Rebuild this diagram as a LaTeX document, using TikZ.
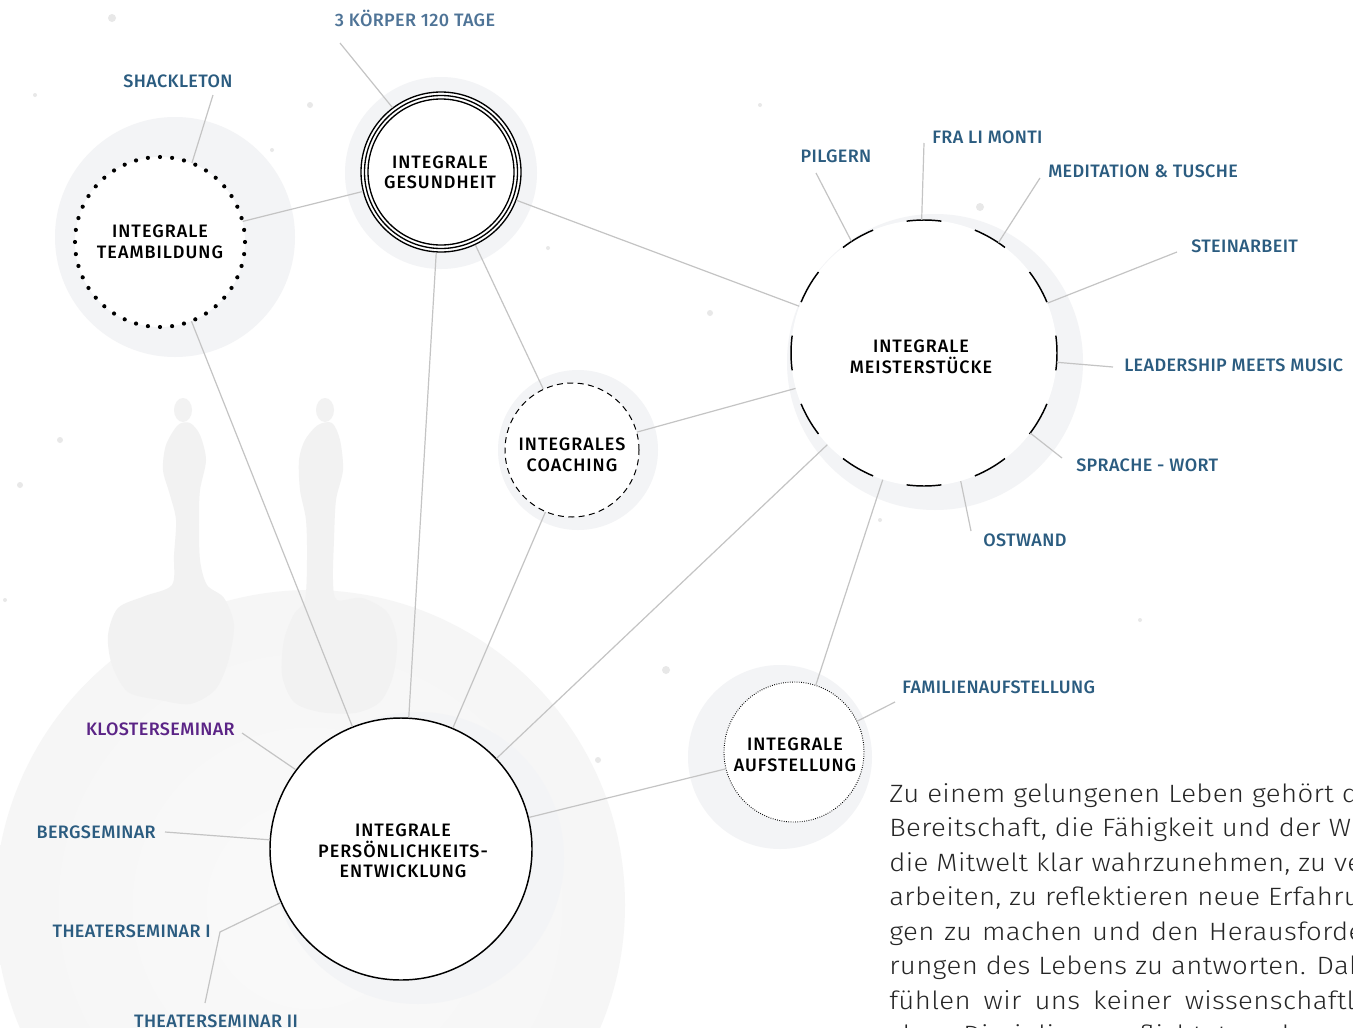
\documentclass[tikz,border=0pt]{standalone}
\usepackage{fontspec}
\setmainfont{Fira Sans}
\newfontfamily\labelfont[LetterSpace=2]{Fira Sans Medium}
\newfontfamily\nodefont[LetterSpace=5.5]{Fira Sans Medium}
\newfontfamily\bodyfont[LetterSpace=1.5,FakeStretch=1.1]{Fira Sans Light}
\definecolor{lblue}{HTML}{2B5C80}
\definecolor{lblueb}{HTML}{4F7497}
\definecolor{lpurple}{HTML}{5B2486}
\definecolor{halo}{HTML}{F3F4F6}
\definecolor{conncol}{HTML}{C4C4C4}
\pgfdeclareradialshading{wash}{\pgfpoint{0bp}{0bp}}{color(0bp)=(black!2); color(30bp)=(black!4); color(46bp)=(black!7); color(50bp)=(black!6)}
\tikzset{
  hub/.style={circle, fill=white, inner sep=0pt},
  hubtext/.style={inner sep=0pt, align=center, text=black,
    font=\nodefont\fontsize{13.5}{15.4}\selectfont},
  lbl/.style={inner sep=0pt, text=lblue, font=\labelfont\fontsize{13.5}{16}\selectfont},
  conn/.style={draw=conncol, line width=0.9pt},
  leader/.style={draw=conncol, line width=0.9pt},
  bodyline/.style={inner sep=0pt, anchor=base west, text=black!85,
    font=\bodyfont\fontsize{18.8}{26}\selectfont},
  speck/.style={fill=black!9},
  drip/.style={fill=black!5},
}
\begin{document}
\begin{tikzpicture}[x=0.75pt,y=-0.75pt]
\useasboundingbox (0,0) rectangle (1353,1028);
\clip (0,0) rectangle (1353,1028);
\fill[white] (0,0) rectangle (1353,1028);
% watercolour wash
\shade[shading=wash] (310,905) circle[radius=315];
\fill[drip] (183,410) ellipse[x radius=9, y radius=12];
\fill[drip] plot[smooth cycle] coordinates {(178,425) (190,423) (200,435) (206,460) (200,490) (199,520) (200,560) (207,585) (224,598) (234,625) (228,662) (215,690) (190,704) (160,700) (128,692) (112,665) (108,635) (118,608) (145,596) (172,585) (174,555) (176,520) (170,495) (163,470) (166,445)};
\fill[drip] (325,410) ellipse[x radius=9, y radius=12];
\fill[drip] plot[smooth cycle] coordinates {(318,425) (332,423) (340,440) (343,470) (336,500) (334,540) (333,580) (337,600) (362,598) (387,612) (397,640) (393,676) (380,702) (355,713) (320,712) (294,702) (282,675) (284,640) (294,614) (305,600) (307,560) (306,520) (300,490) (299,460) (305,440)};
% speckles
\foreach \p/\r in {{(112,18)}/4,{(20,485)}/3,{(710,313)}/3,{(980,207)}/4,{(666,670)}/4,{(598,760)}/3,{(5,600)}/2,{(35,95)}/2,{(310,105)}/3,{(272,150)}/2,{(760,105)}/2,{(548,248)}/2,{(1140,620)}/2,{(880,520)}/2,{(60,440)}/3,{(640,475)}/3}
  \fill[speck] \p circle[radius=\r];
% halos
\fill[halo] (175,237) circle[radius=120];
\fill[halo] (441,173) circle[radius=96];
\fill[halo] (935,362) circle[radius=148];
\fill[halo] (578,450) circle[radius=80];
\fill[halo] (780,757) circle[radius=92];
\fill[halo] (418,858) circle[radius=146];
% hubs
\node[hub, minimum size=127.5pt] (t) at (160,242) {};
\node[hub, minimum size=120pt, draw=black, line width=1pt] (g) at (441,172) {};
\draw[line width=1pt] (g.center) circle[radius=76.5];
\draw[line width=1pt] (g.center) circle[radius=73];
\node[hub, minimum size=199.5pt] (m) at (924,353) {};
\node[hub, minimum size=100.5pt, draw=black, line width=0.75pt, dash pattern=on 4.5pt off 3.3pt] (c) at (572,450) {};
\node[hub, minimum size=105pt, draw=black, line width=0.7pt, dash pattern=on 0.6pt off 1.1pt] (a) at (794,752) {};
\node[hub, minimum size=196.5pt, draw=black, line width=1.1pt] (p) at (401,849) {};
% hub texts
\node[hubtext] (tt) at (160,242) {INTEGRALE\\TEAMBILDUNG};
\node[hubtext] (gt) at (440,172.5) {INTEGRALE\\GESUNDHEIT};
\node[hubtext] (mt) at (921,357) {INTEGRALE\\MEISTERSTÜCKE};
\node[hubtext] (ct) at (572,455) {INTEGRALES\\COACHING};
\node[hubtext] (at) at (795,755) {INTEGRALE\\AUFSTELLUNG};
\node[hubtext] (pt) at (403,851) {INTEGRALE\\PERSÖNLICHKEITS-\\ENTWICKLUNG};
% dotted ring of Teambildung
\foreach \i in {0,...,43} \fill (t.center) ++(\i*360/44:85) circle[radius=2.1];
% broken ring of Meisterstuecke
\foreach \a in {0,30,...,330} \draw[line width=1.1pt] (m.center) ++(\a-7.5:133) arc[start angle=\a-7.5, end angle=\a+7.5, radius=133];
% connections
\draw[conn] (t) -- (g);
\draw[conn] (g) -- (m);
\draw[conn] (g) -- (c);
\draw[conn] (g) -- (p);
\draw[conn] (t) -- (p);
\draw[conn] (c) -- (p);
\draw[conn] (c) -- (m);
\draw[conn] (m) -- (p);
\draw[conn] (m) -- (a);
\draw[conn] (a) -- (p);
% labels
\node[lbl, text=lblueb, anchor=base] (l1) at (415,26.5) {3 KÖRPER 120 TAGE};
\node[lbl, anchor=base] (l2) at (178,87.5) {SHACKLETON};
\node[lbl, anchor=base] (l3) at (836,162.5) {PILGERN};
\node[lbl, anchor=base west] (l4) at (932,143.5) {FRA LI MONTI};
\node[lbl, anchor=base west] (l5) at (1048,177.5) {MEDITATION \& TUSCHE};
\node[lbl, anchor=base west] (l6) at (1191,252.5) {STEINARBEIT};
\node[lbl, anchor=base west] (l7) at (1124,371.5) {LEADERSHIP MEETS MUSIC};
\node[lbl, anchor=base west] (l8) at (1076,471.5) {SPRACHE - WORT};
\node[lbl, anchor=base west] (l9) at (983,546.5) {OSTWAND};
\node[lbl, anchor=base west] (l10) at (902,693.5) {FAMILIENAUFSTELLUNG};
\node[lbl, text=lpurple, anchor=base east] (l11) at (235,735.5) {KLOSTERSEMINAR};
\node[lbl, anchor=base east] (l12) at (156,838.5) {BERGSEMINAR};
\node[lbl, anchor=base east] (l13) at (211,937.5) {THEATERSEMINAR I};
\node[lbl, anchor=base] (l14) at (216,1027) {THEATERSEMINAR II};
% leader anchor points
\coordinate (s1) at (340,43);
\coordinate (s2) at (213,95);
\coordinate (s3) at (816,173);
\coordinate (s4) at (924,143);
\coordinate (s5) at (1040,178);
\coordinate (s6) at (1177,252);
\coordinate (s7) at (1113,367);
\coordinate (s8) at (1062,458);
\coordinate (s9) at (971,531);
\coordinate (s10) at (895,702);
\coordinate (s11) at (242,733);
\coordinate (s12) at (165,832);
\coordinate (s13) at (220,932);
\coordinate (s14) at (205,1003);
\draw[leader] (s1) -- (g.127);
\draw[leader] (s2) -- (t.68.6);
\draw[leader] (s3) -- (m.123.3);
\draw[leader] (s4) -- (m.91.3);
\draw[leader] (s5) -- (m.56.2);
\draw[leader] (s6) -- (m.22);
\draw[leader] (s7) -- (m.-4.3);
\draw[leader] (s8) -- (m.-37.5);
\draw[leader] (s9) -- (m.-74.6);
\draw[leader] (s10) -- (a.26.6);
\draw[leader] (s11) -- (p.143.9);
\draw[leader] (s12) -- (p.176);
\draw[leader] (s14) -- (s13) -- (p.204.8);
% body text
\node[bodyline] (b1) at (889,802) {Zu einem gelungenen Leben gehört die};
\node[bodyline] (b2) at (889,836.5) {Bereitschaft, die Fähigkeit und der Wille,};
\node[bodyline] (b3) at (889,871) {die Mitwelt klar wahrzunehmen, zu ver-};
\node[bodyline] (b4) at (889,905.5) {arbeiten, zu reflektieren neue Erfahrun-};
\node[bodyline] (b5) at (889,940) {\spaceskip=7.5pt gen zu machen und den Herausforde-};
\node[bodyline] (b6) at (889,974.5) {rungen des Lebens zu antworten. Dabei};
\node[bodyline] (b7) at (889,1009) {\spaceskip=9.8pt fühlen wir uns keiner wissenschaftli-};
\node[bodyline] (b8) at (889,1043.5) {\spaceskip=9.8pt chen Disziplin verpflichtet und};
\end{tikzpicture}
\end{document}
